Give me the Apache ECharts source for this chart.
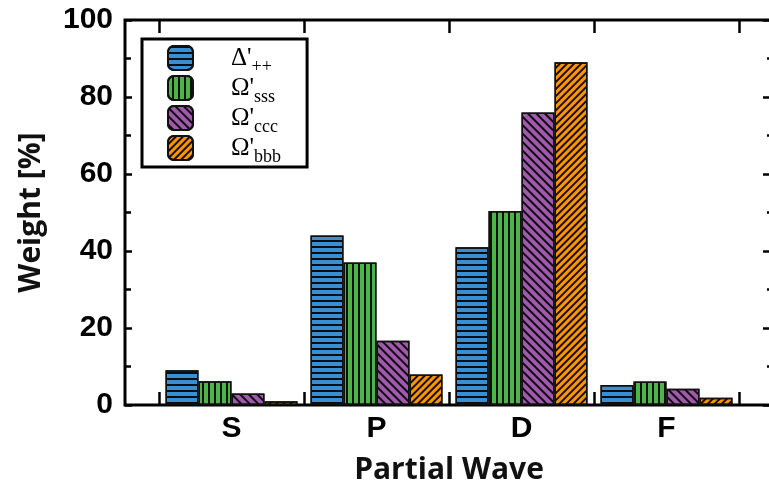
<!DOCTYPE html>
<html><head><meta charset="utf-8">
<script src="https://cdn.jsdelivr.net/npm/echarts@6/dist/echarts.min.js"></script>
<style>html,body{margin:0;padding:0;background:#fff}#c{width:769px;height:490px}</style>
</head><body><div id="c"></div>
<script>
const categories = ['S', 'P', 'D', 'F'];
const seriesMain = ["Δ'", "Ω'", "Ω'", "Ω'"];
const seriesSub = ['++', 'sss', 'ccc', 'bbb'];
const deltaPP = [9, 44, 41, 5.2];
const omegaSSS = [6.2, 37, 50.4, 6.1];
const omegaCCC = [3, 16.7, 76, 4.2];
const omegaBBB = [1, 7.9, 89, 1.9];
const yMin = 0, yMax = 100, yInterval = 20;

const values = [deltaPP, omegaSSS, omegaCCC, omegaBBB];
const names = seriesMain.map((m, i) => m + seriesSub[i]);
const colors = ['#3a8fd3', '#4db34a', '#a05aab', '#ff9600'];
const stripe = (y, rot) => ({symbol: 'rect', symbolSize: 1, dashArrayX: [1, 0], dashArrayY: y, rotation: rot, color: 'rgba(0,0,0,0.9)'});
const decals = [
  stripe([1.7, 4], 0),
  stripe([1.7, 3.8], Math.PI / 2),
  stripe([1.5, 3.2], Math.PI / 4),
  stripe([1.5, 2.8], -Math.PI / 4)
];
const labelFont = {fontFamily: 'Liberation Sans', fontWeight: 'bold', fontSize: 30, color: '#000'};
const nameFont = {fontFamily: 'Open Sans', fontWeight: 'bold', fontSize: 30, color: '#111'};

const chart = echarts.init(document.getElementById('c'), null, {renderer: 'canvas'});
chart.setOption({
  animation: false,
  backgroundColor: '#fff',
  grid: [
    {left: 125, top: 20, width: 648, height: 385, outerBoundsMode: 'none', show: true, borderColor: '#000', borderWidth: 3, backgroundColor: 'transparent'},
    {left: 159, top: 20, width: 580, height: 385, outerBoundsMode: 'none'}
  ],
  legend: {
    orient: 'vertical', left: 142, top: 39,
    data: names,
    icon: 'roundRect', itemWidth: 25, itemHeight: 24, itemGap: -1,
    borderColor: '#000', borderWidth: 3, padding: [6, 26, 1, 25],
    formatter: function (n) {
      const i = names.indexOf(n);
      return '{g|}{m|' + seriesMain[i] + '}{s|' + seriesSub[i] + '}';
    },
    textStyle: {
      rich: {
        g: {width: 33},
        m: {fontFamily: 'Liberation Serif', fontSize: 25, color: '#000', lineHeight: 24, height: 24, verticalAlign: 'middle'},
        s: {fontFamily: 'Liberation Serif', fontSize: 18, color: '#000', lineHeight: 6, height: 6, verticalAlign: 'bottom'}
      }
    }
  },
  xAxis: [
    {gridIndex: 0, type: 'value', min: 0, max: 1, show: false},
    {gridIndex: 1, type: 'category', data: categories, boundaryGap: true,
      axisLine: {show: false},
      axisTick: {show: true, inside: true, length: 13, lineStyle: {color: '#000', width: 2.5}},
      axisLabel: Object.assign({margin: 9}, labelFont),
      name: 'Partial Wave', nameLocation: 'middle', nameGap: 50, nameTextStyle: nameFont},
    {gridIndex: 1, type: 'category', data: categories, position: 'top', boundaryGap: true,
      axisLine: {show: false},
      axisTick: {show: true, inside: true, length: 13, lineStyle: {color: '#000', width: 2.5}},
      axisLabel: {show: false}}
  ],
  yAxis: [
    {gridIndex: 0, type: 'value', min: yMin, max: yMax, interval: yInterval,
      axisLine: {show: false}, splitLine: {show: false},
      axisTick: {show: true, inside: true, length: 7, lineStyle: {color: '#000', width: 2.5}},
      minorTick: {show: true, splitNumber: 2, length: 6, lineStyle: {color: '#000', width: 2.5}},
      axisLabel: Object.assign({margin: 12}, labelFont),
      name: 'Weight [%]', nameLocation: 'middle', nameGap: 79, nameTextStyle: nameFont},
    {gridIndex: 0, type: 'value', min: yMin, max: yMax, interval: yInterval, position: 'right',
      axisLine: {show: false}, splitLine: {show: false}, axisLabel: {show: false},
      axisTick: {show: true, inside: true, length: 10, lineStyle: {color: '#000', width: 2.5}},
      minorTick: {show: true, splitNumber: 2, length: 6, lineStyle: {color: '#000', width: 2.5}}},
    {gridIndex: 1, type: 'value', min: yMin, max: yMax, show: false}
  ],
  series: values.map((v, i) => ({
    name: names[i], type: 'bar', xAxisIndex: 1, yAxisIndex: 2,
    data: v, barWidth: 33, barGap: '0%',
    itemStyle: {color: colors[i], borderColor: '#111', borderWidth: 1.5, decal: decals[i]}
  }))
});
</script></body></html>
